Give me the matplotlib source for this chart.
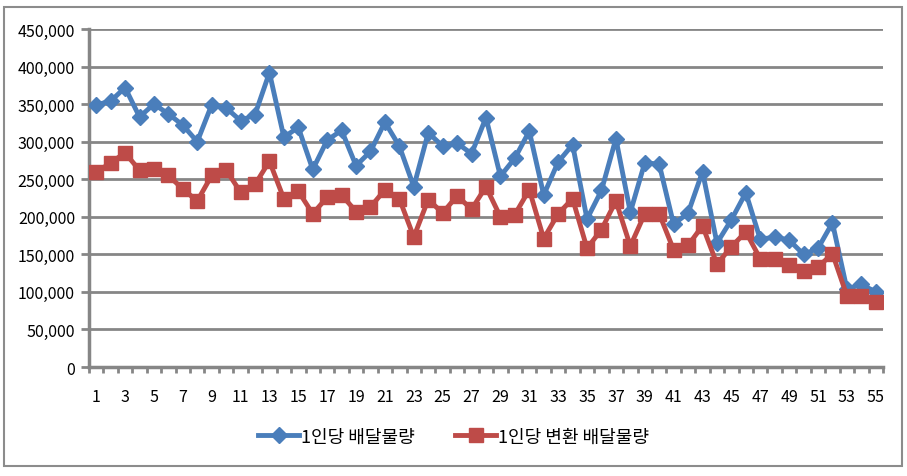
import matplotlib
matplotlib.use("Agg")
import matplotlib.pyplot as plt
from matplotlib.patches import Rectangle
from matplotlib.ticker import FuncFormatter, FixedLocator

plt.rcParams['font.family'] = ['Noto Sans CJK KR', 'DejaVu Sans']

periods = list(range(1, 56))
per_capita = [
    349000, 354000, 372000, 333000, 350000, 337000, 322000, 300000, 349000, 345000,
    328000, 336000, 392000, 306000, 319000, 263000, 302000, 315000, 268000, 287000,
    326000, 294000, 240000, 312000, 294000, 298000, 284000, 332000, 254000, 278000,
    314000, 229000, 273000, 296000, 197000, 235000, 304000, 206000, 272000, 270000,
    190000, 205000, 260000, 165000, 196000, 232000, 170000, 173000, 169000, 150000,
    158000, 192000, 104000, 110000, 100000,
]
per_capita_conv = [
    259000, 272000, 285000, 262000, 263000, 255000, 237000, 221000, 255000, 262000,
    233000, 243000, 274000, 224000, 234000, 204000, 226000, 229000, 207000, 213000,
    236000, 224000, 173000, 223000, 205000, 228000, 210000, 240000, 200000, 203000,
    236000, 171000, 204000, 224000, 158000, 183000, 221000, 161000, 204000, 204000,
    156000, 162000, 188000, 137000, 160000, 180000, 144000, 144000, 136000, 128000,
    133000, 151000, 95000, 95000, 86000,
]
labels = ['1인당 배달물량', '1인당 변환 배달물량']

grey = '#868686'
blue = '#4A7EBB'
red = '#BE4B48'

fig = plt.figure(figsize=(9.07, 4.77), dpi=100)
ax = fig.add_axes([0.0981, 0.2285, 0.8754, 0.7086])

ax.plot(periods, per_capita, color=blue, lw=3.5, marker='D', ms=8.5,
        label=labels[0], zorder=3)
ax.plot(periods, per_capita_conv, color=red, lw=3.5, marker='s', ms=10,
        label=labels[1], zorder=3)

ax.set_xlim(0.5, 55.5)
ax.set_ylim(0, 450000)
ax.set_yticks(range(0, 450001, 50000))
ax.yaxis.set_major_formatter(FuncFormatter(lambda v, p: f'{int(v):,}'))
ax.set_xticks(periods[::2])
ax.xaxis.set_minor_locator(FixedLocator([i + 0.5 for i in range(0, 56)]))
ax.tick_params(axis='x', which='major', length=0, pad=15, labelsize=11.5)
ax.tick_params(axis='x', which='minor', length=4, width=2, color=grey)
ax.tick_params(axis='y', which='major', length=6, width=2, color=grey,
               labelsize=11.5, pad=4)

ax.grid(axis='y', color=grey, lw=2)
ax.set_axisbelow(True)
for s in ['top', 'right']:
    ax.spines[s].set_visible(False)
for s in ['left', 'bottom']:
    ax.spines[s].set_color(grey)
    ax.spines[s].set_linewidth(2.5)

fig.legend(loc='center', bbox_to_anchor=(0.5, 0.083), ncol=2, frameon=False,
           fontsize=13, handlelength=2.3, handletextpad=0.1, columnspacing=2.2)

fig.patches.append(Rectangle((0.004, 0.021), 0.99, 0.962, transform=fig.transFigure,
                             fill=False, edgecolor='#8c8c8c', lw=1.5))

fig.savefig('out.png', dpi=100)
